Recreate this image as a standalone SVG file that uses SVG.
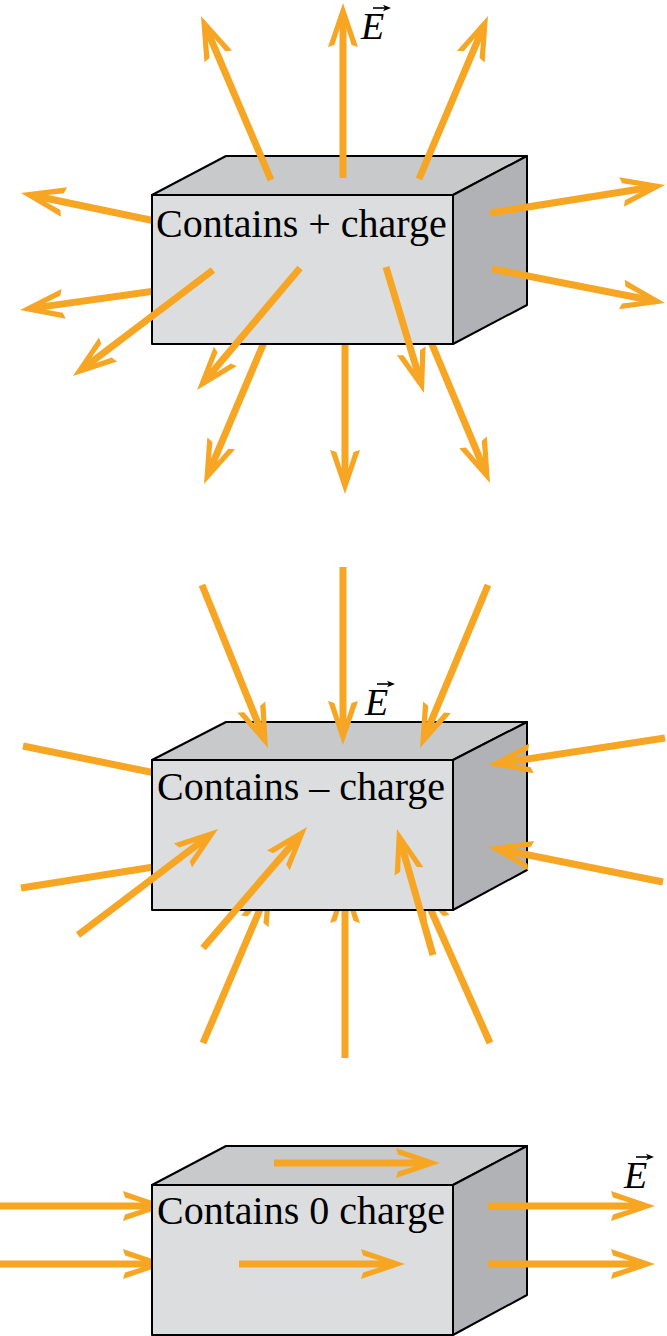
<svg xmlns="http://www.w3.org/2000/svg" width="667" height="1336" viewBox="0 0 667 1336">
<style>
.fr{fill:#dcdddf;stroke:#000;stroke-width:2;stroke-linejoin:round}
.tp{fill:#c8c9cb;stroke:#000;stroke-width:2;stroke-linejoin:round}
.sd{fill:#b1b2b5;stroke:#000;stroke-width:2;stroke-linejoin:round}
.ar{stroke:#f6a623;stroke-width:7;fill:none;marker-end:url(#ah)}
.ln{stroke:#f6a623;stroke-width:7;fill:none}
.lbl{font-family:"Liberation Serif","Times New Roman",serif;font-size:40px;fill:#000}
.ev{font-family:"Liberation Serif","Times New Roman",serif;font-size:38px;font-style:italic;fill:#000}
.vec{stroke:#000;stroke-width:1.6;fill:none;marker-end:url(#vh)}
</style>
<defs>
<marker id="ah" markerUnits="userSpaceOnUse" orient="auto" overflow="visible" refX="0" refY="0" markerWidth="1" markerHeight="1">
<path d="M22,0 L-22,-15 L-20,-8.6 L-4,-3.5 L-4,3.5 L-20,8.6 L-22,15 Z" fill="#f6a623"/>
</marker>
<marker id="vh" markerUnits="userSpaceOnUse" orient="auto" overflow="visible" refX="0" refY="0" markerWidth="1" markerHeight="1">
<path d="M5,0 L-3,-3.2 L-1,0 L-3,3.2 Z" fill="#000"/>
</marker>
</defs>

<!-- connectors drawn behind boxes -->
<g id="connectors-back">
<line class="ar" x1="155" y1="221" x2="42.5" y2="197.5"/>
<line class="ar" x1="155" y1="291" x2="41.8" y2="306.9"/>
<line class="ar" x1="265" y1="340" x2="212.6" y2="463.7"/>
<line class="ar" x1="345" y1="340" x2="345" y2="472"/>
<line class="ar" x1="431" y1="342" x2="481.5" y2="462.7"/>
<line class="ln" x1="23" y1="746" x2="160" y2="774"/>
<line class="ln" x1="21" y1="888" x2="160" y2="866"/>
<line class="ar" x1="203" y1="1043" x2="263.4" y2="901.2"/>
<line class="ar" x1="345" y1="1058" x2="345" y2="901"/>
<line class="ar" x1="490" y1="1043" x2="426.9" y2="901.1"/>
<line class="ar" x1="0" y1="1206" x2="145" y2="1206"/>
<line class="ar" x1="0" y1="1264" x2="145" y2="1264"/>
</g>

<g id="box1">
<polygon class="tp" points="152,195 226,156 527,156 453,195"/>
<polygon class="sd" points="453,195 527,156 527,305 453,344"/>
<rect class="fr" x="152" y="195" width="301" height="149"/>
<text class="lbl" x="156" y="237">Contains + charge</text>
</g>

<g id="box2">
<polygon class="tp" points="152,760 226,722 527,722 453,760"/>
<polygon class="sd" points="453,760 527,722 527,870 453,910"/>
<rect class="fr" x="152" y="760" width="301" height="150"/>
<text class="lbl" x="157" y="800">Contains – charge</text>
</g>

<g id="box3">
<polygon class="tp" points="152,1185 226,1146 527,1146 453,1185"/>
<polygon class="sd" points="453,1185 527,1146 527,1295 453,1335"/>
<rect class="fr" x="152" y="1185" width="301" height="150"/>
<text class="lbl" x="157" y="1224">Contains 0 charge</text>
</g>

<!-- connectors drawn over boxes -->
<g id="connectors">
<line class="ar" x1="271" y1="180" x2="209.6" y2="36.2"/>
<line class="ar" x1="343" y1="178" x2="343" y2="25"/>
<line class="ar" x1="419" y1="179" x2="479.4" y2="36.3"/>
<line class="ar" x1="213" y1="270" x2="90.5" y2="362.7"/>
<line class="ar" x1="300" y1="268" x2="211.2" y2="373.2"/>
<line class="ar" x1="386" y1="267" x2="417.6" y2="371.9"/>
<line class="ar" x1="490" y1="213" x2="643.3" y2="188.5"/>
<line class="ar" x1="492" y1="269" x2="643.4" y2="298.8"/>

<line class="ar" x1="202" y1="585" x2="259.7" y2="727.6"/>
<line class="ar" x1="343" y1="567" x2="343" y2="723"/>
<line class="ar" x1="488" y1="585" x2="428.5" y2="727.7"/>
<line class="ar" x1="665" y1="738" x2="509.7" y2="761.7"/>
<line class="ar" x1="663" y1="882" x2="509.6" y2="851.3"/>
<line class="ar" x1="78" y1="935" x2="200.5" y2="842.3"/>
<line class="ar" x1="203" y1="948" x2="292.7" y2="843.7"/>
<line class="ar" x1="433" y1="955" x2="403" y2="850.2"/>

<line class="ar" x1="274" y1="1163" x2="418" y2="1163"/>
<line class="ar" x1="239" y1="1264" x2="383" y2="1264"/>
<line class="ar" x1="488" y1="1206" x2="633" y2="1206"/>
<line class="ar" x1="488" y1="1264" x2="633" y2="1264"/>
</g>

<g id="label-E1">
<text class="ev" x="361" y="39">E</text>
<line class="vec" x1="373" y1="8" x2="386" y2="8"/>
</g>
<g id="label-E2">
<text class="ev" x="365" y="715">E</text>
<line class="vec" x1="377" y1="684" x2="390" y2="684"/>
</g>
<g id="label-E3">
<text class="ev" x="624" y="1188">E</text>
<line class="vec" x1="636" y1="1157" x2="649" y2="1157"/>
</g>
</svg>
